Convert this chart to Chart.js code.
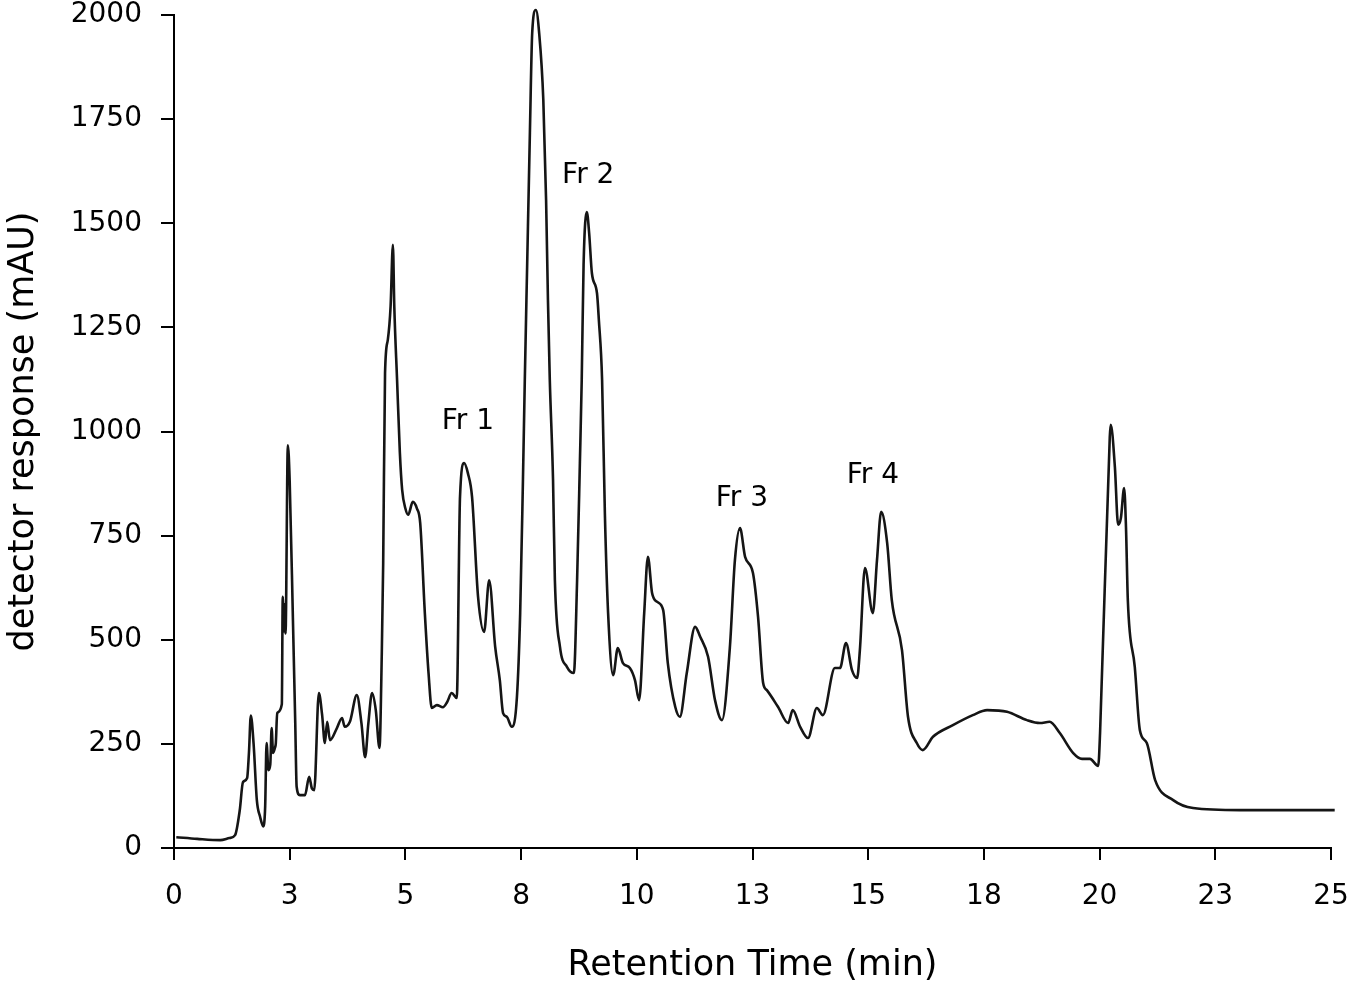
<!DOCTYPE html>
<html>
<head>
<meta charset="utf-8">
<title>Chromatogram</title>
<script src="https://cdn.jsdelivr.net/npm/chart.js@4.4.1/dist/chart.umd.min.js"></script>
<style>
  html, body { margin: 0; padding: 0; background: #fff; }
  #wrap { width: 1350px; height: 989px; }
</style>
</head>
<body>
<div id="wrap"><canvas id="chart"></canvas></div>
<script>
const retentionTime = [
  0.05, 0.5, 1.0, 1.2, 1.32, 1.42, 1.49, 1.58, 1.62, 1.66, 1.72, 1.79, 1.86, 1.93, 1.97,
  2.0, 2.04, 2.08, 2.11, 2.14, 2.18, 2.2, 2.23, 2.33, 2.35, 2.37, 2.39, 2.41, 2.46, 2.5,
  2.57, 2.62, 2.65, 2.72, 2.83, 2.92, 2.98, 3.03, 3.13, 3.2, 3.26, 3.31, 3.37, 3.52, 3.63,
  3.69, 3.8, 3.95, 4.05, 4.13, 4.2, 4.28, 4.36, 4.44, 4.49, 4.52, 4.56, 4.62, 4.68, 4.73,
  4.76, 4.82, 4.88, 4.93, 5.0, 5.06, 5.16, 5.25, 5.32, 5.42, 5.5, 5.57, 5.68, 5.81, 5.9,
  6.0, 6.11, 6.18, 6.27, 6.35, 6.44, 6.57, 6.7, 6.81, 6.94, 7.04, 7.11, 7.19, 7.3, 7.41,
  7.48, 7.54, 7.58, 7.63, 7.69, 7.74, 7.82, 7.89, 7.98, 8.04, 8.08, 8.12, 8.19, 8.23, 8.34,
  8.49, 8.64, 8.71, 8.77, 8.81, 8.85, 8.92, 8.97, 9.03, 9.14, 9.18, 9.25, 9.31, 9.38, 9.49,
  9.59, 9.7, 9.85, 9.96, 10.05, 10.16, 10.24, 10.33, 10.44, 10.57, 10.67, 10.83, 10.93, 11.08, 11.26,
  11.37, 11.54, 11.69, 11.84, 12.01, 12.12, 12.23, 12.34, 12.51, 12.62, 12.73, 12.81, 13.05, 13.27, 13.37,
  13.53, 13.7, 13.89, 14.02, 14.28, 14.39, 14.52, 14.65, 14.76, 14.82, 14.93, 15.1, 15.19, 15.28, 15.41,
  15.51, 15.73, 15.86, 16.05, 16.18, 16.4, 16.83, 17.26, 17.57, 18.0, 18.43, 18.71, 18.92, 19.14, 19.43,
  19.62, 19.79, 19.97, 20.01, 20.22, 20.24, 20.33, 20.4, 20.46, 20.53, 20.57, 20.61, 20.76, 20.87, 21.02,
  21.2, 21.59, 22.02, 23.03, 25.08
];
const response = [
  26, 22, 19, 24, 31, 90, 158, 168, 230, 318, 250, 115, 75, 52, 100,
  252, 187, 200, 288, 228, 240, 252, 324, 345, 603, 520, 585, 515, 967, 880,
  547, 300, 147, 127, 127, 171, 143, 139, 372, 320, 252, 303, 259, 288, 312,
  291, 303, 367, 300, 218, 300, 372, 331, 240, 468, 684, 1140, 1220, 1300, 1448,
  1300, 1124, 950, 860, 815, 800, 831, 815, 780, 564, 420, 336, 343, 338, 350,
  372, 360, 843, 924, 900, 843, 603, 519, 643, 483, 403, 324, 315, 291, 363,
  564, 884, 1124, 1395, 1717, 1957, 2012, 1957, 1796, 1556, 1316, 1124, 884, 643, 483,
  435, 420, 643, 924, 1124, 1400, 1527, 1477, 1380, 1332, 1268, 1124, 804, 564, 415,
  480, 444, 432, 403, 355, 564, 699, 612, 591, 571, 444, 339, 315, 420, 531,
  507, 459, 355, 307, 480, 691, 768, 699, 660, 555, 396, 379, 339, 300, 331,
  291, 264, 336, 319, 432, 432, 492, 427, 408, 475, 672, 564, 691, 807, 732,
  595, 475, 315, 252, 235, 267, 295, 319, 331, 327, 307, 300, 303, 276, 228,
  214, 214, 197, 276, 987, 1016, 915, 776, 792, 864, 771, 595, 435, 283, 252,
  163, 115, 96, 91, 91
];

const xTickLabels = ['0', '3', '5', '8', '10', '13', '15', '18', '20', '23', '25'];

const fractionNames = ['Fr 1', 'Fr 2', 'Fr 3', 'Fr 4'];
const fractionTime = [6.35, 8.95, 12.27, 15.1];
const fractionLevel = [1023, 1613, 838, 893];

const fractionLabels = {
  id: 'fractionLabels',
  afterDatasetsDraw(chart) {
    const { ctx, scales } = chart;
    ctx.save();
    ctx.fillStyle = '#000';
    ctx.font = '28px "DejaVu Sans"';
    ctx.textAlign = 'center';
    ctx.textBaseline = 'middle';
    fractionNames.forEach((name, i) => {
      ctx.fillText(name, scales.x.getPixelForValue(fractionTime[i]), scales.y.getPixelForValue(fractionLevel[i]));
    });
    ctx.restore();
  }
};

Chart.defaults.font.family = '"DejaVu Sans"';
Chart.defaults.color = '#000';

new Chart(document.getElementById('chart'), {
  type: 'line',
  data: {
    datasets: [{
      data: retentionTime.map((t, i) => ({ x: t, y: response[i] })),
      borderColor: '#151515',
      borderWidth: 2.6,
      pointRadius: 0,
      fill: false,
      cubicInterpolationMode: 'monotone',
      clip: false
    }]
  },
  options: {
    responsive: true,
    maintainAspectRatio: false,
    animation: false,
    layout: { padding: { top: 15, right: 19, left: 0, bottom: 0 } },
    plugins: {
      legend: { display: false },
      tooltip: { enabled: false }
    },
    scales: {
      x: {
        type: 'linear',
        min: 0,
        max: 25,
        afterFit(scale) {
          scale.height = 141;
          scale.paddingLeft = 0;
          scale.paddingRight = 0;
        },
        border: { display: true, color: '#000', width: 2 },
        grid: { drawOnChartArea: false, drawTicks: true, tickLength: 12, color: '#000', lineWidth: 2 },
        ticks: {
          stepSize: 2.5,
          padding: 20,
          font: { size: 28 },
          maxRotation: 0,
          autoSkip: false,
          callback: (value, index) => xTickLabels[index]
        },
        title: {
          display: true,
          text: 'Retention Time (min)',
          font: { size: 35 },
          padding: { top: 0, bottom: 2 }
        }
      },
      y: {
        min: 0,
        max: 2000,
        afterFit(scale) {
          scale.width = 174;
          scale.paddingTop = 0;
          scale.paddingBottom = 0;
        },
        border: { display: true, color: '#000', width: 2 },
        grid: { drawOnChartArea: false, drawTicks: true, tickLength: 13, color: '#000', lineWidth: 2 },
        ticks: {
          stepSize: 250,
          padding: 19,
          font: { size: 28 },
          callback: value => String(value)
        },
        title: {
          display: true,
          text: 'detector response (mAU)',
          font: { size: 35 },
          padding: { top: 3, bottom: 0 }
        }
      }
    }
  },
  plugins: [fractionLabels]
});
</script>
</body>
</html>
